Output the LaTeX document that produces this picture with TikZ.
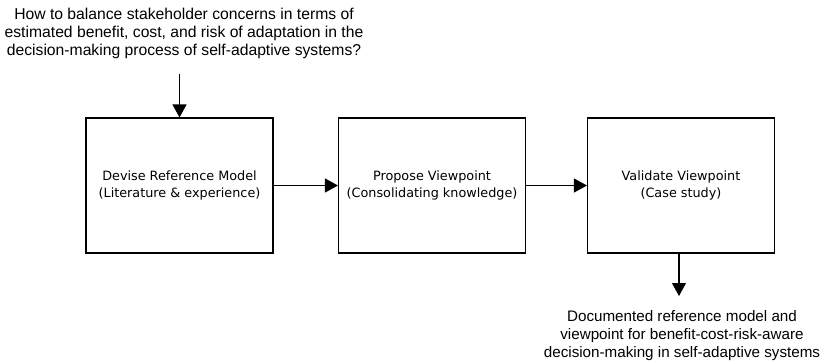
\documentclass[tikz,border=0pt]{standalone}
\usepackage{fontspec}
\setmainfont{Liberation Sans}
\newfontfamily\boxfont{DejaVu Sans}
\usetikzlibrary{arrows.meta}
\begin{document}
\begin{tikzpicture}[x=1pt,y=-1pt,
  stagebox/.style={draw,line width=1.1pt,minimum width=187pt,minimum height=135pt,
    align=center,inner sep=0pt,font=\boxfont\fontsize{12.8}{16.7}\selectfont},
  plain/.style={align=center,inner sep=0pt,font=\fontsize{15.2}{18}\selectfont},
  flow/.style={line width=1.1pt,-{Triangle[length=13pt,width=14pt]}}]
\useasboundingbox (0,0) rectangle (825,364);
\node[plain,font=\fontsize{15.7}{18}\selectfont] (q) at (184,33.5) {How to balance stakeholder concerns in terms of\\
  estimated benefit, cost, and risk of adaptation in the\\
  decision-making process of self-adaptive systems?};
\coordinate (qa) at (179.5,74);
\node[stagebox] (b1) at (179.5,185.5) {Devise Reference Model\\(Literature \& experience)};
\node[stagebox] (b2) at (432,185.5) {Propose Viewpoint\\(Consolidating knowledge)};
\node[stagebox] (b3) at (681,185.5) {Validate Viewpoint\\(Case study)};
\coordinate (ra) at (679,296);
\node[plain] (r) at (682,336) {Documented reference model and\\
  viewpoint for benefit-cost-risk-aware\\
  decision-making in self-adaptive systems};
\draw[flow] (qa) -- (b1.north);
\draw[flow] (b1) -- (b2);
\draw[flow] (b2) -- (b3);
\draw[flow] (b3.south -| ra) -- (ra);
\end{tikzpicture}
\end{document}
